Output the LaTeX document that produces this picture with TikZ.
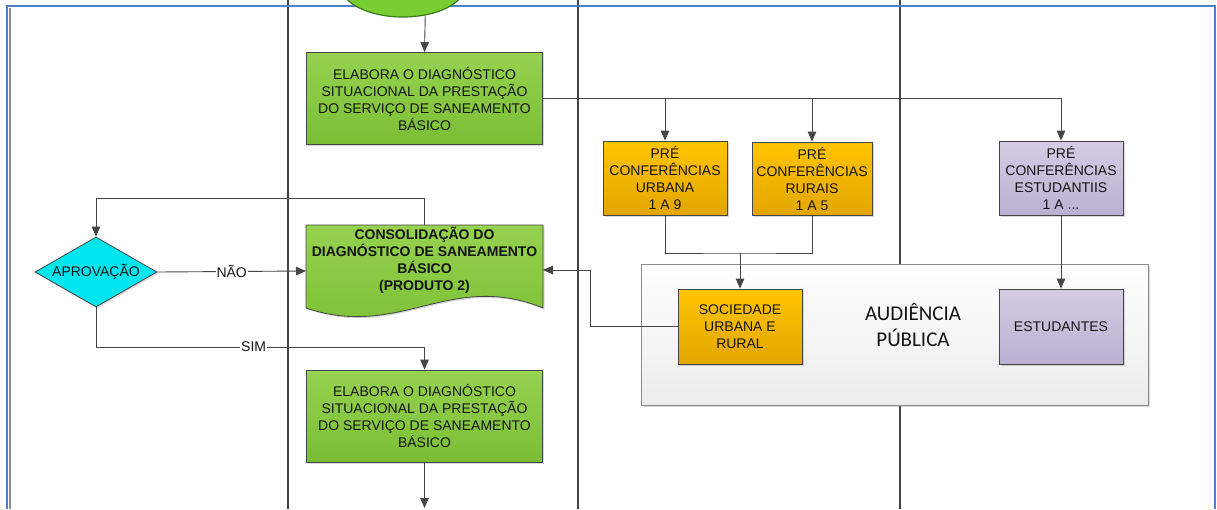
\documentclass[tikz,border=0pt]{standalone}
\usepackage{fontspec}
\setmainfont{Liberation Sans}
\newfontfamily\audfont{Carlito}
\usetikzlibrary{shapes.geometric,arrows.meta,shadows}
\definecolor{frameblue}{RGB}{79,129,200}
\definecolor{framegray}{RGB}{140,140,140}
\definecolor{linegray}{RGB}{70,70,70}
\definecolor{greentop}{RGB}{150,210,80}
\definecolor{greenbot}{RGB}{122,190,52}
\definecolor{ellfill}{RGB}{120,205,50}
\definecolor{elldraw}{RGB}{60,120,30}
\definecolor{orgtop}{RGB}{255,196,0}
\definecolor{orgbot}{RGB}{226,166,0}
\definecolor{purtop}{RGB}{212,204,228}
\definecolor{purbot}{RGB}{186,176,210}
\definecolor{cyanfill}{RGB}{0,230,238}
\definecolor{audbot}{RGB}{236,236,236}
\definecolor{txt}{RGB}{20,20,20}
\tikzset{
  shad/.style={drop shadow={shadow xshift=1.5pt, shadow yshift=-1.5pt, opacity=0.3}},
  box/.style={draw=linegray, line width=0.8pt, align=center, inner sep=0pt, text=txt,
              font=\fontsize{14}{17}\selectfont, shad},
  greenbox/.style={box, top color=greentop, bottom color=greenbot, minimum width=236pt, minimum height=92pt},
  orgbox/.style={box, top color=orgtop, bottom color=orgbot, minimum width=124pt, minimum height=74pt},
  purbox/.style={box, top color=purtop, bottom color=purbot, minimum width=124pt, minimum height=74pt},
  conn/.style={draw=linegray, line width=0.9pt},
  arr/.style={conn, -{Triangle[length=10pt,width=8.5pt]}},
  lane/.style={draw=linegray, line width=1.1pt},
  lbl/.style={fill=white, inner sep=1pt, text=txt, font=\fontsize{14}{17}\selectfont},
}
\begin{document}
\begin{tikzpicture}[x=1pt,y=-1pt]
\clip (0,0) rectangle (1217,509);
\fill[white] (0,0) rectangle (1217,509);
% swim lanes
\draw[lane] (288,0) -- (288,509);
\draw[lane] (578,0) -- (578,509);
\draw[lane] (900,0) -- (900,509);
% frame
\draw[framegray, line width=1.5pt] (10,8) -- (10,509);
\draw[frameblue, line width=2pt] (7,509) -- (7,6) -- (1215,6) -- (1215,509);
% start shape
\node[ellipse, draw=elldraw, fill=ellfill, line width=1.2pt, minimum width=124pt, minimum height=62pt] (start) at (403,-14) {};
% audience box
\node[draw=framegray, line width=1pt, top color=white, bottom color=audbot, shad,
      minimum width=507pt, minimum height=141pt, inner sep=0pt] (aud) at (894.5,334.5) {};
\node[font=\audfont\fontsize{21}{26}\selectfont, text=txt, align=center] (audtxt) at (913,325) {AUDIÊNCIA\\PÚBLICA};
% green boxes
\node[greenbox] (box1) at (424.5,98.5) {ELABORA O DIAGNÓSTICO\\SITUACIONAL DA PRESTAÇÃO\\DO SERVIÇO DE SANEAMENTO\\BÁSICO};
\node[greenbox] (box3) at (424.5,416) {ELABORA O DIAGNÓSTICO\\SITUACIONAL DA PRESTAÇÃO\\DO SERVIÇO DE SANEAMENTO\\BÁSICO};
% document shape
\path[draw=linegray, line width=0.8pt, top color=greentop, bottom color=greenbot, shad]
  (306,225) -- (543,225) -- (543,308) .. controls (450,270) and (400,340) .. (306,308) -- cycle;
\node[align=center, text=txt, font=\bfseries\fontsize{14}{17}\selectfont] (cons) at (424.5,260)
  {CONSOLIDAÇÃO DO\\DIAGNÓSTICO DE SANEAMENTO\\BÁSICO\\(PRODUTO 2)};
\coordinate (consT) at (424.5,225);
\coordinate (consL) at (306,271);
\coordinate (consR) at (543,270);
% orange / purple boxes
\node[orgbox] (or1) at (665,178) {PRÉ\\CONFERÊNCIAS\\URBANA\\1 A 9};
\node[orgbox, minimum width=120pt, minimum height=73pt] (or2) at (812,178.5) {PRÉ\\CONFERÊNCIAS\\RURAIS\\1 A 5};
\node[purbox] (pur1) at (1061,178) {PRÉ\\CONFERÊNCIAS\\ESTUDANTIIS\\1 A ...};
\node[orgbox, minimum height=75pt] (soc) at (740,326.5) {SOCIEDADE\\URBANA E\\RURAL};
\node[purbox, minimum height=75pt] (est) at (1061,326.5) {ESTUDANTES};
% decision
\node[diamond, draw=linegray, line width=0.8pt, fill=cyanfill, aspect=1.74, inner sep=0pt,
      minimum width=122pt, minimum height=70pt, text=txt, font=\fontsize{14}{17}\selectfont, shad] (dia) at (96,272) {APROVAÇÃO};
% connectors
\draw[arr] (start.-53) -- (box1.north);
\draw[arr] (box1.east) -| (pur1.north);
\draw[arr] (box1.east -| or1.north) -- (or1.north);
\draw[arr] (box1.east -| or2.north) -- (or2.north);
\coordinate (j) at (740,253);
\draw[conn] (or1.south) |- (j) -| (or2.south);
\draw[arr] (j) -- (soc.north);
\draw[arr] (pur1.south) -- (est.north);
\draw[arr] (soc.west) -| (590,270) -- (consR);
\draw[arr] (consT) -- ++(0,-27) -| (dia.north);
\draw[arr] (dia.east) -- node[lbl, pos=0.5]{NÃO} (consL);
\draw[arr] (dia.south) -- (96,347) -- node[lbl, pos=0.48]{SIM} (424.5,347) -- (box3.north);
\coordinate (endpt) at (424.5,508);
\draw[arr] (box3.south) -- (endpt);
\end{tikzpicture}
\end{document}
